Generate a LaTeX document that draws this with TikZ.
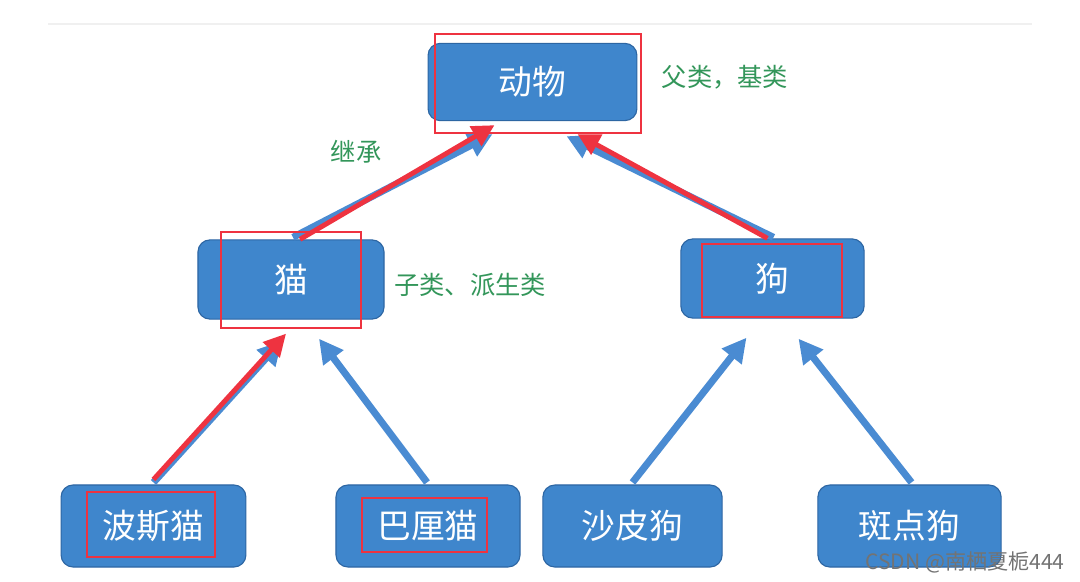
\documentclass[tikz,border=0pt]{standalone}
\usepackage{fontspec}
\setmainfont{Noto Sans CJK SC}
\usetikzlibrary{arrows.meta,calc}
\definecolor{boxblue}{HTML}{3F86CC}
\definecolor{boxedge}{HTML}{2D66A3}
\definecolor{arrowblue}{HTML}{4A8BD2}
\definecolor{markred}{HTML}{EE3340}
\definecolor{notegreen}{HTML}{33965A}
\begin{document}
\begin{tikzpicture}[x=0.025cm, y=-0.025cm,
    classbox/.style={rectangle, draw=boxedge, line width=0.8pt, fill=boxblue, rounded corners=0.3cm, inner sep=0pt, minimum height=2cm, text=white, font=\fontsize{24}{24}\selectfont},
    note/.style={text=notegreen, font=\fontsize{18}{18}\selectfont},
    bluearrow/.style={-{Triangle[length=0.6cm,width=0.6cm]}, line width=5pt, draw=arrowblue},
    redarrow/.style={-{Triangle[length=0.55cm,width=0.55cm]}, line width=3.5pt, draw=markred},
    redframe/.style={draw=markred, line width=1pt}
]
\useasboundingbox (0,0) rectangle (1080,581);
\draw[black!6, line width=1pt] (48,24) -- (1032,24);

\node[classbox, minimum width=5.22cm, minimum height=1.93cm] (animal) at (532.5,82) {动物};
\node[classbox, minimum width=4.65cm, minimum height=1.98cm] (cat) at (291,279.5) {猫};
\node[classbox, minimum width=4.58cm, minimum height=1.98cm] (dog) at (772.5,278.5) {狗};
\node[classbox, minimum width=4.62cm, minimum height=2.05cm] (persian) at (153.5,526) {波斯猫};
\node[classbox, minimum width=4.6cm, minimum height=2.05cm] (bali) at (428,526) {巴厘猫};
\node[classbox, minimum width=4.48cm, minimum height=2.05cm] (sharpei) at (632.5,526) {沙皮狗};
\node[classbox, minimum width=4.58cm, minimum height=2.05cm] (spotted) at (909.5,526) {斑点狗};

\node[note] (base) at (725,77) {父类，基类};
\node[note] (inherit) at (356,152) {继承};
\node[note] (derived) at (470,285) {子类、派生类};
\node[text=black!55, font=\fontsize{15}{15}\selectfont] (mark) at (965,562) {CSDN @南栖夏栀444};

\draw[bluearrow] ($(cat.north)+(2,-2)$) -- ($(animal.south)+(-40,13)$);
\draw[bluearrow] ($(dog.north)+(1,-1)$) -- ($(animal.south)+(34,15)$);
\draw[bluearrow] ($(persian.north)+(0,-2)$) -- ($(cat.south)+(-9,21)$);
\draw[bluearrow] ($(bali.north)+(-1,-2)$) -- ($(cat.south)+(28,19)$);
\draw[bluearrow] ($(sharpei.north)+(0,-2)$) -- ($(dog.south)+(-26,19)$);
\draw[bluearrow] ($(spotted.north)+(2,-2)$) -- ($(dog.south)+(26,20)$);

\draw[redarrow] ($(cat.north)+(9,0)$) -- ($(animal.south)+(-38,4)$);
\draw[redarrow] ($(dog.north)+(-5,0)$) -- ($(animal.south)+(45,13)$);
\draw[redarrow] ($(persian.north)+(0,-5)$) -- ($(cat.south)+(-5,14)$);

\draw[redframe] (435,34) rectangle (641,133);
\draw[redframe] (221,232) rectangle (361,328);
\draw[redframe] (702,244) rectangle (842,317);
\draw[redframe] (87,492) rectangle (215,557);
\draw[redframe] (362,498) rectangle (487,552);
\end{tikzpicture}
\end{document}
